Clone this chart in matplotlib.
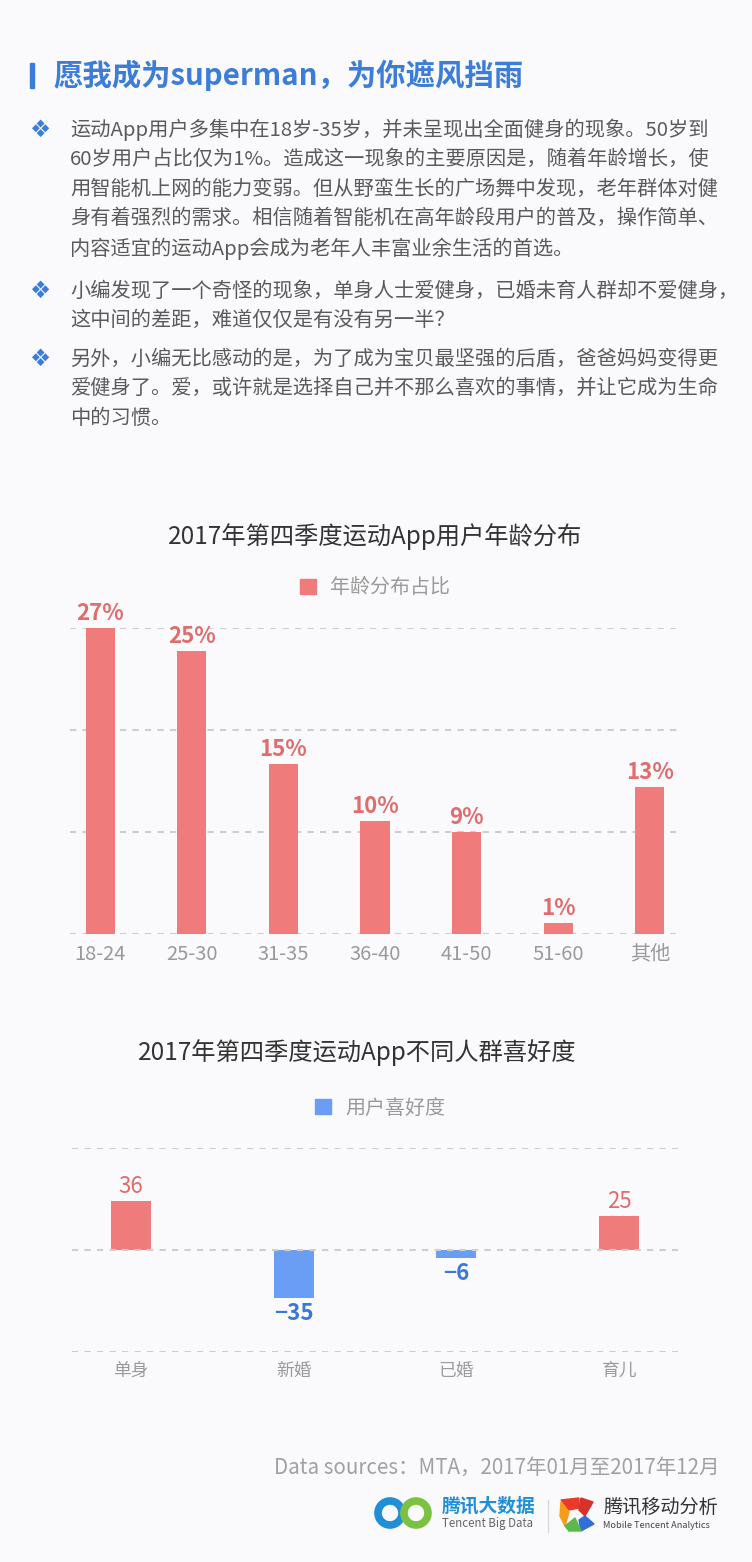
import matplotlib.pyplot as plt
from matplotlib.patches import Rectangle, Circle, Polygon
from matplotlib.lines import Line2D

plt.rcParams['font.family'] = ['Noto Sans CJK SC', 'DejaVu Sans']

# ---- data ----
heading = '愿我成为superman，为你遮风挡雨'
paragraphs = [
    ['运动App用户多集中在18岁-35岁，并未呈现出全面健身的现象。50岁到',
     '60岁用户占比仅为1%。造成这一现象的主要原因是，随着年龄增长，使',
     '用智能机上网的能力变弱。但从野蛮生长的广场舞中发现，老年群体对健',
     '身有着强烈的需求。相信随着智能机在高年龄段用户的普及，操作简单、',
     '内容适宜的运动App会成为老年人丰富业余生活的首选。'],
    ['小编发现了一个奇怪的现象，单身人士爱健身，已婚未育人群却不爱健身，',
     '这中间的差距，难道仅仅是有没有另一半？'],
    ['另外，小编无比感动的是，为了成为宝贝最坚强的后盾，爸爸妈妈变得更',
     '爱健身了。爱，或许就是选择自己并不那么喜欢的事情，并让它成为生命',
     '中的习惯。'],
]

age_title = '2017年第四季度运动App用户年龄分布'
age_legend = '年龄分布占比'
age_groups = ['18-24', '25-30', '31-35', '36-40', '41-50', '51-60', '其他']
age_share = [27, 25, 15, 10, 9, 1, 13]

pref_title = '2017年第四季度运动App不同人群喜好度'
pref_legend = '用户喜好度'
pref_groups = ['单身', '新婚', '已婚', '育儿']
pref_values = [36, -35, -6, 25]

source_text = 'Data sources：MTA，2017年01月至2017年12月'

# ---- colours ----
BG = '#fafafc'
BLUE_HEAD = '#3b7dd8'
RED = '#f07b7b'
RED_TXT = '#e06c6c'
BLUE = '#6a9ef5'
BLUE_TXT = '#3a78d8'
GRID = '#cdcdd2'
GRAY = '#9a9a9a'
BODY = '#5a5a5a'

W, H = 752, 1562
fig = plt.figure(figsize=(W / 100, H / 100), dpi=100, facecolor=BG)

# overlay axes in pixel coordinates for the page text / decorations
bg = fig.add_axes([0, 0, 1, 1])
bg.set_xlim(0, W)
bg.set_ylim(H, 0)
bg.axis('off')
bg.set_facecolor(BG)

# header
bg.add_patch(Rectangle((30, 63), 4, 25, color=BLUE_HEAD))
bg.text(53, 75, heading, fontsize=21.2, fontweight='bold', color=BLUE_HEAD,
        va='center', ha='left')

# bullet paragraphs
para_y = [130, 291, 359]
line_gap = 29.6
for start, lines in zip(para_y, paragraphs):
    bg.text(40, start, '\u2756', fontsize=17, color=BLUE_HEAD, ha='center',
            va='center', family=['DejaVu Sans'])
    for k, ln in enumerate(lines):
        bg.text(70, start + k * line_gap, ln, fontsize=14.6, color=BODY,
                ha='left', va='center')

# ---- chart 1: age distribution ----
bg.text(375, 537, age_title, fontsize=17.5, color='#333333', ha='center', va='center')

ax1 = fig.add_axes([70 / W, 1 - 934 / H, 610 / W, 306 / H])
ax1.patch.set_alpha(0)
for yv in [0, 9, 18, 27]:
    ax1.axhline(yv, color=GRID, lw=1.5, ls=(0, (3, 3)), zorder=1)
xs1 = range(len(age_groups))
ax1.bar(xs1, age_share, width=0.32, color=RED, zorder=2)
for x, v in zip(xs1, age_share):
    ax1.annotate(f'{v}%', (x, v), xytext=(0, 2), textcoords='offset points',
                 ha='center', va='bottom', fontsize=16, fontweight='bold',
                 color=RED_TXT, annotation_clip=False)
ax1.set_xlim(-0.33, 6.33)
ax1.set_ylim(0, 27)
ax1.set_xticks(list(xs1))
ax1.set_xticklabels(age_groups, fontsize=14.5, color=GRAY)
ax1.set_yticks([])
ax1.tick_params(axis='x', length=0, pad=7)
for s in ax1.spines.values():
    s.set_visible(False)
fig.legend(handles=[Rectangle((0, 0), 1, 1, color=RED)], labels=[age_legend],
           loc='center', bbox_to_anchor=(375 / W, 1 - 588 / H), frameon=False,
           fontsize=14.4, labelcolor=GRAY, handlelength=0.8, handleheight=0.8,
           handletextpad=0.7)

# ---- chart 2: preference ----
bg.text(357, 1053, pref_title, fontsize=17.5, color='#333333', ha='center', va='center')

ax2 = fig.add_axes([72 / W, 1 - 1352 / H, 606 / W, 204 / H])
ax2.patch.set_alpha(0)
for yv in [-75, 0, 75]:
    ax2.axhline(yv, color=GRID, lw=1.5, ls=(0, (3, 3)), zorder=3 if yv == 0 else 1)
xs2 = range(len(pref_groups))
cols2 = [RED if v > 0 else BLUE for v in pref_values]
ax2.bar(xs2, pref_values, width=0.245, color=cols2, zorder=2)
for x, v in zip(xs2, pref_values):
    if v > 0:
        ax2.annotate(f'{v}', (x, v), xytext=(0, 2), textcoords='offset points',
                     ha='center', va='bottom', fontsize=16, color=RED_TXT,
                     annotation_clip=False)
    else:
        ax2.annotate(f'\u2212{-v}', (x, v), xytext=(0, -3), textcoords='offset points',
                     ha='center', va='top', fontsize=16, fontweight='bold',
                     color=BLUE_TXT, annotation_clip=False)
ax2.set_xlim(-0.36, 3.36)
ax2.set_ylim(-75, 75)
ax2.set_xticks(list(xs2))
ax2.set_xticklabels(pref_groups, fontsize=12.8, color=GRAY)
ax2.set_yticks([])
ax2.tick_params(axis='x', length=0, pad=7)
for s in ax2.spines.values():
    s.set_visible(False)
fig.legend(handles=[Rectangle((0, 0), 1, 1, color=BLUE)], labels=[pref_legend],
           loc='center', bbox_to_anchor=(380 / W, 1 - 1108 / H), frameon=False,
           fontsize=14.4, labelcolor=GRAY, handlelength=0.8, handleheight=0.8,
           handletextpad=0.7)

# ---- footer ----
bg.text(720, 1468, source_text, fontsize=14.8, color='#a0a0a0', ha='right', va='center')

# Tencent Big Data logo (two linked rings)
bg.add_patch(Circle((390, 1513), 12, fill=False, lw=5.5, ec='#1f8fd6'))
bg.add_patch(Circle((416, 1513), 12, fill=False, lw=5.5, ec='#7cc242'))
bg.text(442, 1506, '腾讯大数据', fontsize=13.5, fontweight='bold', color='#1f8fd6',
        ha='left', va='center')
bg.text(442, 1524, 'Tencent Big Data', fontsize=8.3, color='#666666',
        ha='left', va='center')
bg.add_line(Line2D([548, 548], [1500, 1532], color='#d8d8d8', lw=1))

# Mobile Tencent Analytics logo (pinwheel)
cx, cy = 577, 1514
bg.add_patch(Polygon([(cx - 16, cy - 14), (cx + 2, cy - 16), (cx + 2, cy - 6), (cx - 8, cy - 4)], color='#e8392b'))
bg.add_patch(Polygon([(cx + 4, cy - 16), (cx + 16, cy - 12), (cx + 8, cy + 2), (cx + 2, cy - 4)], color='#d9302c'))
bg.add_patch(Polygon([(cx - 16, cy - 12), (cx - 8, cy - 2), (cx - 12, cy + 12), (cx - 17, cy + 2)], color='#f59b1a'))
bg.add_patch(Polygon([(cx + 8, cy + 2), (cx + 17, cy + 10), (cx + 4, cy + 17), (cx + 2, cy + 6)], color='#2f6fd6'))
bg.add_patch(Polygon([(cx - 12, cy + 12), (cx - 2, cy + 4), (cx + 4, cy + 17), (cx - 8, cy + 17)], color='#5cb84a'))
bg.text(603, 1507, '腾讯移动分析', fontsize=13.8, color='#333333', ha='left', va='center')
bg.text(603, 1526, 'Mobile Tencent Analytics', fontsize=6.6, color='#444444',
        ha='left', va='center')

fig.savefig('out.png', dpi=100, facecolor=BG)
